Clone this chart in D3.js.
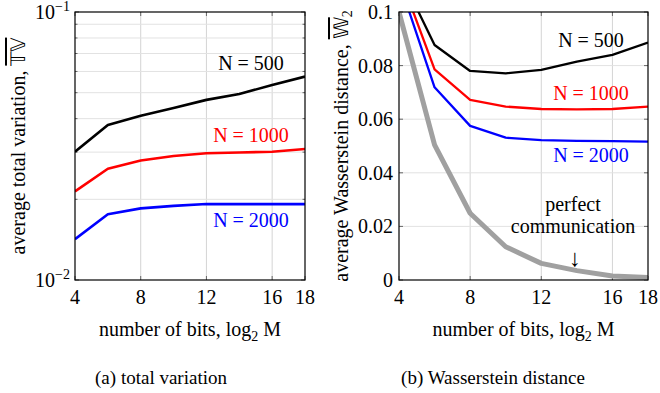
<!DOCTYPE html>
<html>
<head>
<meta charset="utf-8">
<script src="https://cdn.jsdelivr.net/npm/d3@7"></script>
<style>
  body { margin: 0; background: #fff; }
</style>
</head>
<body>
<div id="chart"></div>
<script>
// number of bits
var bits = [4, 6, 8, 10, 12, 14, 16, 18];
var xTicks = [4, 8, 12, 16, 18];

// (a) total variation
var tv500 = [0.0301, 0.0379, 0.0410, 0.0438, 0.0470, 0.0494, 0.0534, 0.0574];
var tv1000 = [0.0214, 0.0260, 0.0279, 0.0290, 0.0297, 0.0299, 0.0301, 0.0308];
var tv2000 = [0.0142, 0.0176, 0.0185, 0.0189, 0.0192, 0.0192, 0.0192, 0.0192];

// (b) Wasserstein distance
var w500 = [0.115, 0.0877, 0.0780, 0.0771, 0.0784, 0.0815, 0.0840, 0.0886];
var w1000 = [0.1143, 0.0786, 0.0672, 0.0647, 0.0638, 0.0637, 0.0638, 0.0647];
var w2000 = [0.1115, 0.0719, 0.0575, 0.0531, 0.0522, 0.0519, 0.0518, 0.0516];
var wPerfect = [0.1, 0.0504, 0.0249, 0.0124, 0.0062, 0.0035, 0.0015, 0.0009];
var wTicks = [0, 0.02, 0.04, 0.06, 0.08, 0.1];

var width = 660, height = 393;
var fs = 20;

var svg = d3.select("#chart").append("svg")
    .attr("width", width)
    .attr("height", height);

function zip(ys) {
    return bits.map(function (b, i) { return { x: b, y: ys[i] }; });
}

function txt(sel) {
    return sel.append("text")
        .style("font-family", "Tinos")
        .style("font-size", fs + "px");
}

function panel(opt) {
    var x = d3.scaleLinear().domain([4, 18]).range([opt.left, opt.right]);
    var y = opt.y;
    var g = svg.append("g");

    // grid
    g.append("g").selectAll("line").data(xTicks.slice(1, -1)).enter().append("line")
        .attr("x1", function (d) { return x(d); }).attr("x2", function (d) { return x(d); })
        .attr("y1", opt.top).attr("y2", opt.bottom)
        .attr("stroke", "#d4d4d4").attr("stroke-width", 1);
    g.append("g").selectAll("line").data(opt.grid).enter().append("line")
        .attr("x1", opt.left).attr("x2", opt.right)
        .attr("y1", function (d) { return y(d); }).attr("y2", function (d) { return y(d); })
        .attr("stroke", "#e2e2e2").attr("stroke-width", 1);

    // ticks inside on all sides
    var tk = g.append("g").attr("stroke", "#666").attr("stroke-width", 1);
    xTicks.forEach(function (t) {
        tk.append("line").attr("x1", x(t)).attr("x2", x(t)).attr("y1", opt.bottom).attr("y2", opt.bottom - 4);
        tk.append("line").attr("x1", x(t)).attr("x2", x(t)).attr("y1", opt.top).attr("y2", opt.top + 4);
    });
    opt.tickMarks.forEach(function (t) {
        var l = opt.minor && opt.minor.indexOf(t) >= 0 ? 2.5 : 4;
        tk.append("line").attr("x1", opt.left).attr("x2", opt.left + l).attr("y1", y(t)).attr("y2", y(t));
        tk.append("line").attr("x1", opt.right).attr("x2", opt.right - l).attr("y1", y(t)).attr("y2", y(t));
    });

    // clip
    var cid = "clip" + opt.left;
    svg.append("clipPath").attr("id", cid).append("rect")
        .attr("x", opt.left).attr("y", opt.top)
        .attr("width", opt.right - opt.left).attr("height", opt.bottom - opt.top);

    var line = d3.line()
        .x(function (d) { return x(d.x); })
        .y(function (d) { return y(d.y); });

    opt.series.forEach(function (s) {
        g.append("path")
            .datum(zip(s.values))
            .attr("clip-path", "url(#" + cid + ")")
            .attr("fill", "none")
            .attr("stroke", s.color)
            .attr("stroke-width", s.width)
            .attr("stroke-linejoin", "round")
            .attr("d", line);
    });

    // frame
    g.append("rect")
        .attr("x", opt.left).attr("y", opt.top)
        .attr("width", opt.right - opt.left).attr("height", opt.bottom - opt.top)
        .attr("fill", "none").attr("stroke", "#000").attr("stroke-width", 1.2);

    // x tick labels
    xTicks.forEach(function (d) {
        txt(g).attr("x", x(d)).attr("y", opt.bottom + 24)
            .attr("text-anchor", "middle").text(d);
    });

    // x label
    var xl = txt(g)
        .attr("x", (opt.left + opt.right) / 2)
        .attr("y", 336)
        .attr("text-anchor", "middle");
    xl.append("tspan").text("number of bits, log");
    xl.append("tspan").attr("dy", 5).style("font-size", "14px").text("2");
    xl.append("tspan").attr("dy", -5).text(" M");

    // caption
    txt(g).attr("x", opt.capX).attr("y", 384)
        .attr("text-anchor", "middle").style("font-size", "19px")
        .text(opt.caption);

    // curve labels
    opt.series.forEach(function (s) {
        if (!s.label) return;
        txt(g).attr("x", s.lx).attr("y", s.ly)
            .attr("text-anchor", "middle")
            .attr("fill", s.color)
            .text(s.label);
    });
    return { x: x, y: y, g: g };
}

// panel (a)
var yA = d3.scaleLog().domain([0.01, 0.1]).range([280, 12]);
var minorA = [0.02, 0.03, 0.04, 0.05, 0.06, 0.07, 0.08, 0.09];
var pa = panel({
    left: 75, right: 305, top: 12, bottom: 280,
    y: yA, grid: minorA, tickMarks: [0.01, 0.1].concat(minorA), minor: minorA,
    capX: 161, caption: "(a) total variation",
    series: [
        { values: tv500, color: "#000", width: 2.6, label: "N = 500", lx: 251, ly: 70 },
        { values: tv1000, color: "#ff0000", width: 2.6, label: "N = 1000", lx: 251, ly: 142 },
        { values: tv2000, color: "#0000ff", width: 2.6, label: "N = 2000", lx: 251, ly: 227 }
    ]
});

[[0.1, "1"], [0.01, "2"]].forEach(function (d) {
    var t = txt(pa.g).attr("x", 70).attr("y", yA(d[0]) + 7).attr("text-anchor", "end");
    t.append("tspan").text("10");
    t.append("tspan").attr("dy", -8).style("font-size", "14px").text("\u2212" + d[1]);
});

var ylA = txt(pa.g)
    .attr("transform", "translate(25,146) rotate(-90)")
    .attr("text-anchor", "middle");
ylA.append("tspan").text("average total variation, ");
ylA.append("tspan").style("text-decoration", "overline").text("\uD835\uDD4B\uD835\uDD4D");

// panel (b)
var yB = d3.scaleLinear().domain([0, 0.1]).range([280, 12]);
var pb = panel({
    left: 399, right: 648, top: 12, bottom: 280,
    y: yB, grid: wTicks.slice(1, -1), tickMarks: wTicks,
    capX: 493, caption: "(b) Wasserstein distance",
    series: [
        { values: wPerfect, color: "#a0a0a0", width: 5 },
        { values: w500, color: "#000", width: 2.3, label: "N = 500", lx: 591, ly: 47 },
        { values: w1000, color: "#ff0000", width: 2.3, label: "N = 1000", lx: 591, ly: 100 },
        { values: w2000, color: "#0000ff", width: 2.3, label: "N = 2000", lx: 591, ly: 162 }
    ]
});

wTicks.forEach(function (d) {
    txt(pb.g).attr("x", 393).attr("y", yB(d) + 7)
        .attr("text-anchor", "end")
        .text(d === 0 ? "0" : d === 0.1 ? "0.1" : d3.format(".2f")(d));
});

var ylB = txt(pb.g)
    .attr("transform", "translate(348,146) rotate(-90)")
    .attr("text-anchor", "middle");
ylB.append("tspan").text("average Wasserstein distance, ");
ylB.append("tspan").style("text-decoration", "overline").text("\uD835\uDD4E");
ylB.append("tspan").attr("dy", 4).style("font-size", "14px").text("2");

// perfect communication note
txt(pb.g).attr("x", 573).attr("y", 211).attr("text-anchor", "middle").text("perfect");
txt(pb.g).attr("x", 573).attr("y", 233).attr("text-anchor", "middle").text("communication");
txt(pb.g).attr("x", 575).attr("y", 266).attr("text-anchor", "middle").style("font-size", "24px").text("\u2193");
</script>
</body>
</html>
